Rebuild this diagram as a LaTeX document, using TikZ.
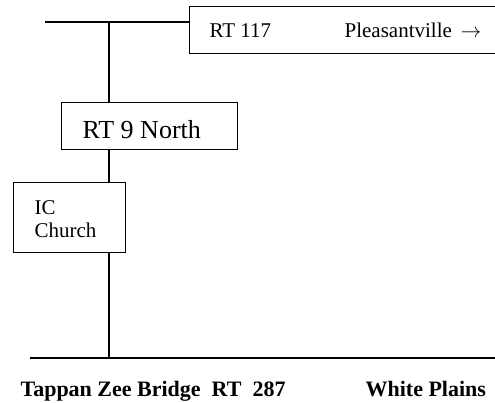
\documentclass[tikz,border=0pt]{standalone}
\usepackage{fontspec}
\setmainfont{Liberation Serif}
\begin{document}
\begin{tikzpicture}[x=1pt,y=-1pt,line width=1.2pt,
  box/.style={draw,rectangle,inner sep=0pt,anchor=north west,line width=1.2pt},
  lbl/.style={inner sep=0pt,anchor=base west,font=\fontsize{21}{23}\selectfont},
  big/.style={inner sep=0pt,anchor=base west,font=\fontsize{26}{28}\selectfont},
  bot/.style={inner sep=0pt,anchor=base west,font=\fontsize{22}{24}\selectfont\bfseries}]
\useasboundingbox (0,0) rectangle (495,402);
% boxes
\node[box,minimum width=320pt,minimum height=47pt] (rt117) at (189,6) {};
\node[box,minimum width=176pt,minimum height=47pt] (rt9) at (61,102) {};
\node[box,minimum width=112pt,minimum height=70pt] (ic) at (13,182) {};
% texts
\node[lbl] (t117) at (209,37) {RT 117};
\node[lbl] (tpl) at (344,37) {Pleasantville \,$\rightarrow$};
\node[big] (t9) at (82,138) {RT 9 North};
\node[lbl] (tic) at (34,214) {IC};
\node[lbl] (tch) at (34,237) {Church};
\node[bot] (ttz) at (20,396.5) {Tappan Zee Bridge\ \ RT\ \ 287};
\node[bot] (twp) at (365,396.5) {White Plains};
% roads
\coordinate (topL) at (45,22);
\coordinate (topJ) at (109,22);
\coordinate (botL) at (30,358);
\coordinate (botR) at (500,358);
\coordinate (botJ) at (109,358);
\draw (topL) -- (rt117.west |- topL);
\draw (topJ) -- (topJ |- rt9.north);
\draw (topJ |- rt9.south) -- (topJ |- ic.north);
\draw (topJ |- ic.south) -- (botJ);
\draw (botL) -- (botR);
\end{tikzpicture}
\end{document}
